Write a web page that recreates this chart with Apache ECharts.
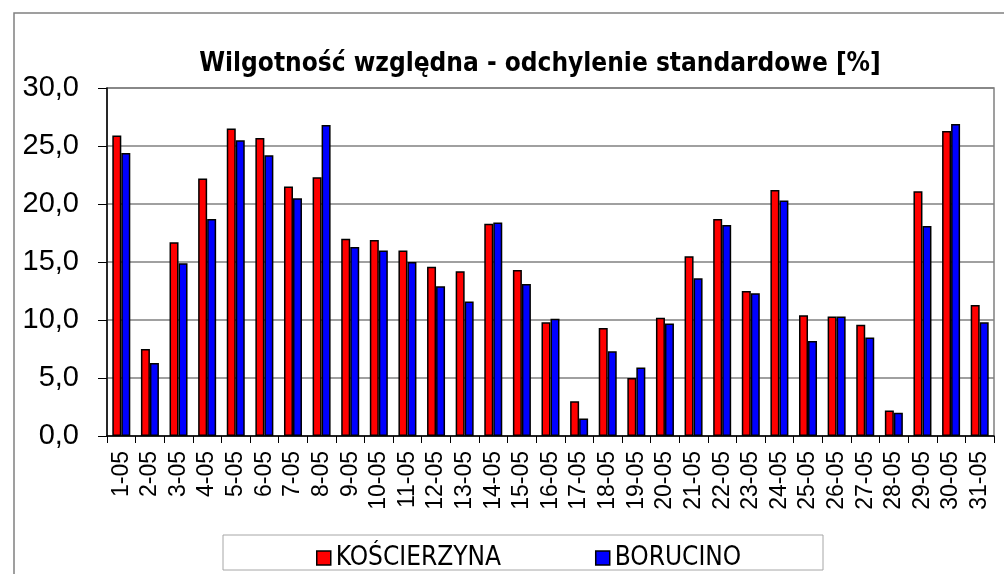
<!DOCTYPE html>
<html>
<head>
<meta charset="utf-8">
<title>Wilgotność względna - odchylenie standardowe</title>
<script src="https://cdn.jsdelivr.net/npm/echarts@6/dist/echarts.min.js"></script>
<style>
  html, body { margin: 0; padding: 0; background: #ffffff; }
  #chart { width: 1004px; height: 574px; }
</style>
</head>
<body>
<div id="chart"></div>
<script>
// Days of May
const days = ['1-05','2-05','3-05','4-05','5-05','6-05','7-05','8-05','9-05','10-05',
  '11-05','12-05','13-05','14-05','15-05','16-05','17-05','18-05','19-05','20-05',
  '21-05','22-05','23-05','24-05','25-05','26-05','27-05','28-05','29-05','30-05','31-05'];

// Standard deviation of relative humidity [%]
const koscierzyna = [25.9, 7.5, 16.7, 22.2, 26.5, 25.7, 21.5, 22.3, 17.0, 16.9,
  16.0, 14.6, 14.2, 18.3, 14.3, 9.8, 3.0, 9.3, 5.0, 10.2,
  15.5, 18.7, 12.5, 21.2, 10.4, 10.3, 9.6, 2.2, 21.1, 26.3, 11.3];
const borucino = [24.4, 6.3, 14.9, 18.7, 25.5, 24.2, 20.5, 26.8, 16.3, 16.0,
  15.0, 12.9, 11.6, 18.4, 13.1, 10.1, 1.5, 7.3, 5.9, 9.7,
  13.6, 18.2, 12.3, 20.3, 8.2, 10.3, 8.5, 2.0, 18.1, 26.9, 9.8];

const seriesNames = ['KOŚCIERZYNA', 'BORUCINO'];
const seriesColors = ['#ff0000', '#0000ff'];

const narrow = '"Liberation Sans Narrow", "DejaVu Sans Condensed", sans-serif';
const arial = '"Liberation Sans", Arial, sans-serif';

const chart = echarts.init(document.getElementById('chart'), null, { renderer: 'canvas' });

function barSeries(name, data, color) {
  return {
    name: name,
    type: 'bar',
    data: data,
    barWidth: 9,
    barGap: '0%',
    itemStyle: { color: color, borderColor: '#000000', borderWidth: 1.5 },
    emphasis: { disabled: true }
  };
}

chart.setOption({
  animation: false,
  backgroundColor: '#ffffff',
  title: {
    text: 'Wilgotność względna - odchylenie standardowe [%]',
    left: 535,
    top: 46,
    textAlign: 'center',
    textStyle: { fontFamily: narrow, fontWeight: 'bold', fontSize: 26, color: '#000000' }
  },
  graphic: [
    // outer frame of the chart area
    { type: 'polyline', shape: { points: [[14, 574], [14, 13], [1004, 13]] },
      style: { stroke: '#808080', lineWidth: 1.5, fill: null }, silent: true },
    // legend frame
    { type: 'rect', shape: { x: 223, y: 535, width: 600, height: 35 },
      style: { stroke: '#a6a6a6', lineWidth: 1, fill: '#ffffff' }, silent: true, z: 0 }
  ],
  legend: {
    data: seriesNames,
    left: 311,
    top: 540,
    icon: 'rect',
    itemWidth: 14,
    itemHeight: 14,
    itemGap: 94,
    itemStyle: { borderColor: '#000000', borderWidth: 1.5 },
    textStyle: { fontFamily: narrow, fontSize: 26, color: '#000000' },
    selectedMode: false,
    z: 5
  },
  grid: {
    left: 107, right: 10, top: 88, bottom: 138,
    show: true, borderColor: '#808080', borderWidth: 1.5,
    containLabel: false
  },
  xAxis: {
    type: 'category',
    data: days,
    boundaryGap: true,
    axisLine: { lineStyle: { color: '#000000', width: 1.5 } },
    axisTick: { show: true, interval: 0, length: 7, alignWithLabel: false, lineStyle: { color: '#000000' } },
    axisLabel: { interval: 0, rotate: 90, margin: 15, fontFamily: arial, fontSize: 23, color: '#000000' },
    splitLine: { show: false }
  },
  yAxis: {
    type: 'value',
    min: 0, max: 30, interval: 5,
    axisLine: { show: true, lineStyle: { color: '#000000', width: 1.5 } },
    axisTick: { show: true, length: 9, lineStyle: { color: '#000000' } },
    axisLabel: {
      margin: 28, fontFamily: arial, fontSize: 29, color: '#000000',
      formatter: v => v.toFixed(1).replace('.', ',')
    },
    splitLine: { show: true, lineStyle: { color: '#808080', width: 1.5 } }
  },
  series: [
    barSeries(seriesNames[0], koscierzyna, seriesColors[0]),
    barSeries(seriesNames[1], borucino, seriesColors[1])
  ]
});
</script>
</body>
</html>
